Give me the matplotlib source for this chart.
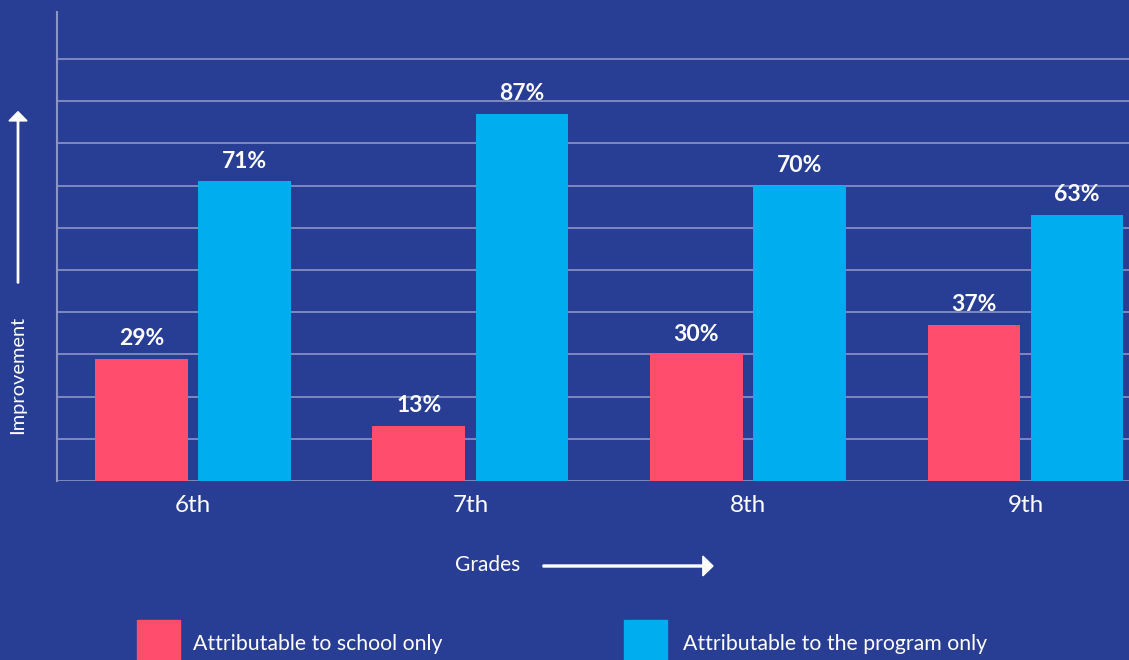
import numpy as np
import matplotlib
matplotlib.use('Agg')
import matplotlib.pyplot as plt
from matplotlib.patches import Rectangle

plt.rcParams['font.family'] = ['Lato', 'DejaVu Sans']

# data
grades = ['6th', '7th', '8th', '9th']
school_only = [29, 13, 30, 37]
program_only = [71, 87, 70, 63]
legend_labels = ['Attributable to school only', 'Attributable to the program only']

bg = '#283E94'
pink = '#FF4D6D'
blue = '#00ADEE'
grid_col = '#8C95C6'

W, H = 1129, 660
fig = plt.figure(figsize=(W / 100, H / 100), dpi=100, facecolor=bg)

ax = fig.add_axes([57 / W, (H - 481) / H, (W - 57) / W, (481 - 12) / H])
ax.set_facecolor(bg)

x = np.arange(len(grades))
bw = 0.335
off = 0.1856
ax.bar(x - off, school_only, width=bw, color=pink, zorder=3)
ax.bar(x + off, program_only, width=bw, color=blue, zorder=3)

for xi, v in zip(x - off, school_only):
    ax.annotate(f'{v}%', (xi, v), xytext=(0, 7), textcoords='offset points',
                ha='center', va='bottom', color='white', fontsize=16.5, fontweight='bold')
for xi, v in zip(x + off, program_only):
    ax.annotate(f'{v}%', (xi, v), xytext=(0, 7), textcoords='offset points',
                ha='center', va='bottom', color='white', fontsize=16.5, fontweight='bold')

ax.set_xlim(-0.490, 3.373)
ax.set_ylim(0, 111.1)
ax.set_yticks(np.arange(0, 101, 10))
ax.set_yticklabels([])
ax.yaxis.grid(True, color=grid_col, linewidth=1.2, zorder=0)
ax.tick_params(axis='y', length=0)
ax.set_xticks(x)
ax.set_xticklabels(grades, color='white', fontsize=17.5)
ax.tick_params(axis='x', length=0, pad=10)

for s in ['top', 'right', 'bottom']:
    ax.spines[s].set_visible(False)
ax.spines['left'].set_color(grid_col)
ax.spines['left'].set_linewidth(1.5)

# axis captions with arrows
fig.text(18 / W, 1 - 375 / H, 'Improvement', rotation=90, color='white',
         fontsize=14.4, ha='center', va='center')
fig.patches.append(matplotlib.patches.FancyArrow(
    18 / W, 1 - 283 / H, 0, (283 - 113) / H - 0.012, width=0.0012,
    head_width=0.016, head_length=0.014, color='white', transform=fig.transFigure))

fig.text(488 / W, 1 - 565 / H, 'Grades', color='white', fontsize=15,
         ha='center', va='center')
fig.patches.append(matplotlib.patches.FancyArrow(
    543 / W, 1 - 566 / H, (713 - 543) / W - 0.009, 0, width=0.003,
    head_width=0.03, head_length=0.009, color='white', transform=fig.transFigure))

# legend
for lx, tx, c, lab in [(137, 193, pink, legend_labels[0]), (624, 683, blue, legend_labels[1])]:
    fig.patches.append(Rectangle((lx / W, 0), 43 / W, 40 / H, color=c,
                                 transform=fig.transFigure))
    fig.text(tx / W, 1 - 644 / H, lab, color='white', fontsize=15.3,
             ha='left', va='center')

fig.savefig('out.png', dpi=100, facecolor=bg)
